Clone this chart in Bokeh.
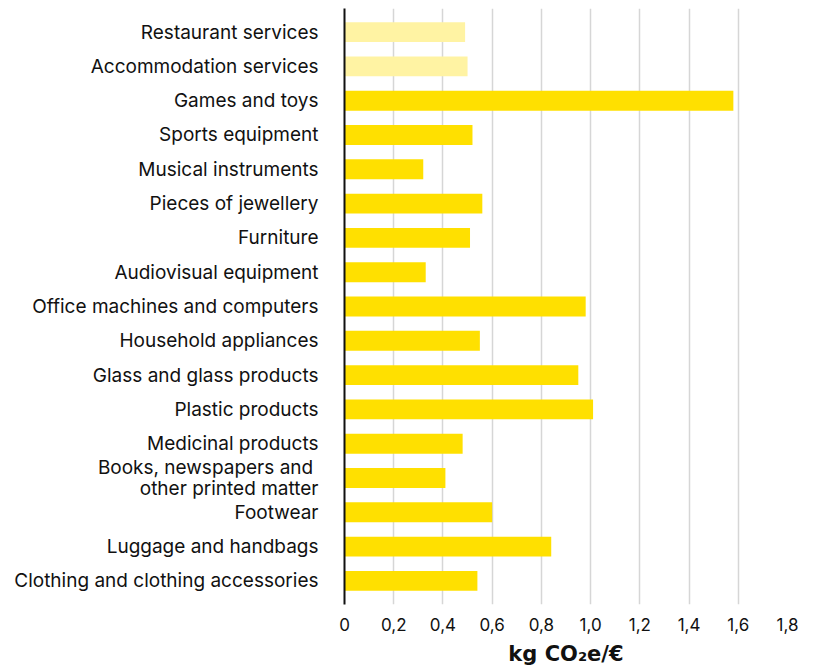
from bokeh.plotting import figure
from bokeh.models import FactorRange, Range1d, FixedTicker, CustomJSTickFormatter, ColumnDataSource
from bokeh.embed import file_html
from bokeh.resources import INLINE

categories = [
    "Restaurant services",
    "Accommodation services",
    "Games and toys",
    "Sports equipment",
    "Musical instruments",
    "Pieces of jewellery",
    "Furniture",
    "Audiovisual equipment",
    "Office machines and computers",
    "Household appliances",
    "Glass and glass products",
    "Plastic products",
    "Medicinal products",
    "Books, newspapers and \nother printed matter",
    "Footwear",
    "Luggage and handbags",
    "Clothing and clothing accessories",
]
values = [0.49, 0.50, 1.58, 0.52, 0.32, 0.56, 0.51, 0.33, 0.98, 0.55, 0.95, 1.01, 0.48, 0.41, 0.60, 0.84, 0.54]
is_service = [True, True] + [False] * 15
ticks = [0, 0.2, 0.4, 0.6, 0.8, 1.0, 1.2, 1.4, 1.6, 1.8]
x_label = "kg CO₂e/€"

YELLOW = "#FFE000"
LIGHT = "#FFF3A3"
colors = [LIGHT if s else YELLOW for s in is_service]

factors = list(reversed(categories))
src = ColumnDataSource(dict(cat=categories, val=values, color=colors))

p = figure(
    width=811, height=668,
    y_range=FactorRange(factors=factors, range_padding=0.0221),
    x_range=Range1d(0, 1.8),
    output_backend="svg", toolbar_location=None,
    min_border_left=344, min_border_right=24, min_border_top=8, min_border_bottom=56,
)
p.hbar(y="cat", right="val", left=0, height=0.58, color="color", line_color=None, source=src)

p.outline_line_color = None
p.background_fill_color = "white"
p.ygrid.grid_line_color = None
p.xgrid.grid_line_color = "#d6d6d6"
p.xgrid.grid_line_width = 1.5
p.xgrid.ticker = FixedTicker(ticks=ticks)

ya = p.yaxis[0]
ya.axis_line_color = "#111111"
ya.axis_line_width = 2
ya.major_tick_line_color = None
ya.minor_tick_line_color = None
ya.major_tick_out = 0
ya.major_label_standoff = 26
ya.major_label_text_font = "Inter"
ya.major_label_text_font_size = "19px"
ya.major_label_text_line_height = 0.9
ya.major_label_text_color = "#111111"

xa = p.xaxis[0]
xa.ticker = FixedTicker(ticks=ticks)
xa.formatter = CustomJSTickFormatter(code="""
    if (Math.abs(tick) < 1e-9) { return '0'; }
    return tick.toFixed(1).replace('.', ',');
""")
xa.axis_line_color = None
xa.major_tick_line_color = None
xa.minor_tick_line_color = None
xa.major_tick_out = 0
xa.major_label_standoff = 13
xa.major_label_text_font = "Inter"
xa.major_label_text_font_size = "17px"
xa.major_label_text_color = "#111111"
xa.axis_label = x_label
xa.axis_label_text_font = "DejaVu Sans"
xa.axis_label_text_font_size = "21px"
xa.axis_label_text_font_style = "bold"
xa.axis_label_text_color = "#111111"
xa.axis_label_standoff = 8

open("out.html", "w").write(file_html(p, INLINE))
